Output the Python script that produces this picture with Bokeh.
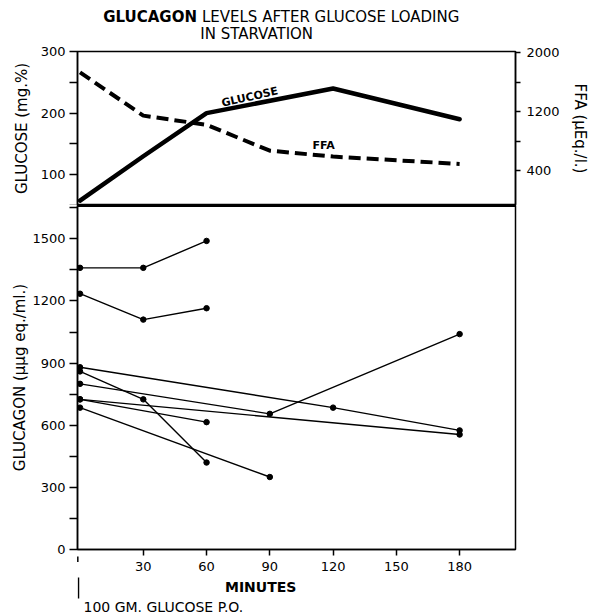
from math import pi
from bokeh.plotting import figure
from bokeh.layouts import column
from bokeh.models import (Range1d, LinearAxis, FixedTicker, Arrow, NormalHead, Span,
                          PolyAnnotation)
from bokeh.core.properties import value
from bokeh.embed import file_html
from bokeh.resources import INLINE

# ---------------- data ----------------
# Top panel (group means)
glucose_minutes = [0, 30, 60, 120, 180]
glucose_values = [58, 130, 200, 240, 190]          # mg.%
ffa_minutes = [0, 30, 60, 90, 120, 180]
ffa_values = [1730, 1145, 1020, 670, 590, 490]     # uEq./l.

# Bottom panel: individual subjects' glucagon
glucagon_minutes = [[0, 30, 60], [0, 30, 60], [0, 120, 180], [0, 30, 60],
                    [0, 90, 180], [0, 60], [0, 180], [0, 90]]
glucagon_values = [[1360, 1360, 1490], [1235, 1110, 1165], [880, 685, 575],
                   [860, 725, 420], [800, 655, 1040], [725, 615], [725, 555],
                   [685, 350]]

minute_ticks = [30, 60, 90, 120, 150, 180]
glucose_ticks = [100, 200, 300]
glucose_minor = [50, 150, 250]
ffa_ticks = [400, 1200, 2000]
ffa_minor = [800, 1600]
glucagon_ticks = [0, 300, 600, 900, 1200, 1500]
glucagon_minor = [150, 450, 750, 1050, 1350, 1650]

FONT = "DejaVu Sans"
W = 591
FL, FR = 77, 74          # borders around the plot frames
FRAME_X = (FL, W - FR)   # pixel span of the aligned frames


def style_axis(ax, ticks, minor, tick_len=7):
    ax.ticker = FixedTicker(ticks=ticks, minor_ticks=minor)
    ax.axis_line_color = "black"
    ax.axis_line_width = 1.5
    ax.major_tick_line_color = "black"
    ax.major_tick_line_width = 1.5
    ax.minor_tick_line_color = "black"
    ax.minor_tick_line_width = 1.5
    ax.major_tick_in = 0
    ax.major_tick_out = tick_len
    ax.minor_tick_in = 0
    ax.minor_tick_out = tick_len
    ax.major_label_text_font = FONT
    ax.major_label_text_font_size = "13px"
    ax.major_label_text_color = "black"
    ax.major_label_standoff = 4
    ax.axis_label_text_font = FONT
    ax.axis_label_text_font_size = "15px"
    ax.axis_label_text_font_style = "normal"
    ax.axis_label_text_color = "black"


def blank(p):
    p.grid.visible = False
    p.outline_line_color = None
    p.background_fill_color = "white"
    p.border_fill_color = "white"


# ---------------- header (title), pixel coordinates ----------------
hdr = figure(width=W, height=43, output_backend="svg", toolbar_location=None,
             x_range=Range1d(*FRAME_X), y_range=Range1d(43, 0),
             x_axis_location=None, y_axis_location=None, min_border=0,
             min_border_left=FL, min_border_right=FR)
blank(hdr)
hdr.text(x=[197], y=[16], text=["GLUCAGON"], text_font=value(FONT),
         text_font_size="15px", text_font_style="bold", text_align="right",
         text_baseline="middle", text_color="black")
hdr.text(x=[202], y=[16], text=["LEVELS AFTER GLUCOSE LOADING"],
         text_font=value(FONT), text_font_size="15px", text_align="left",
         text_baseline="middle", text_color="black")
hdr.text(x=[257], y=[33], text=["IN STARVATION"], text_font=value(FONT),
         text_font_size="15px", text_align="center", text_baseline="middle",
         text_color="black")

# ---------------- top figure ----------------
top = figure(width=W, height=162, output_backend="svg", toolbar_location=None,
             x_range=Range1d(-1.2, 206.5), y_range=Range1d(50, 300),
             x_axis_location=None, min_border_left=FL, min_border_right=FR,
             min_border_top=8, min_border_bottom=0)
top.extra_y_ranges = {"ffa": Range1d(-73, 2014)}
top.grid.visible = False
top.outline_line_color = "black"
top.outline_line_width = 1.5
top.background_fill_color = "white"
top.border_fill_color = "white"
style_axis(top.yaxis[0], glucose_ticks, glucose_minor, 8)
top.yaxis[0].axis_label = "GLUCOSE (mg.%)"
top.yaxis[0].axis_label_standoff = 7

rax = LinearAxis(y_range_name="ffa")
style_axis(rax, ffa_ticks, ffa_minor, 5)
rax.major_label_standoff = 6
rax.axis_label = "FFA (\u03bcEq./l.)"
rax.axis_label_standoff = 8
top.add_layout(rax, "right")
top.add_layout(Span(location=50, dimension="width", line_color="black", line_width=3))

top.line(glucose_minutes, glucose_values, line_color="black", line_width=4.5,
         line_join="round", line_cap="round")
top.line(ffa_minutes, ffa_values, y_range_name="ffa", line_color="black",
         line_width=4, line_dash="12 6")
top.text(x=[80.5], y=[226], text=["GLUCOSE"], angle=0.22, text_align="center",
         text_baseline="middle", text_font=value(FONT), text_font_size="11px",
         text_font_style="bold", text_color="black")
top.text(x=[115.5], y=[148], text=["FFA"], text_align="center",
         text_baseline="middle", text_font=value(FONT), text_font_size="11px",
         text_font_style="bold", text_color="black")

# ---------------- bottom figure ----------------
bot = figure(width=W, height=372, output_backend="svg", toolbar_location=None,
             x_range=top.x_range, y_range=Range1d(0, 1661),
             min_border_left=FL, min_border_right=FR, min_border_top=0,
             min_border_bottom=28)
bot.grid.visible = False
bot.outline_line_color = "black"
bot.outline_line_width = 1.5
bot.background_fill_color = "white"
bot.border_fill_color = "white"
style_axis(bot.yaxis[0], glucagon_ticks, glucagon_minor, 8)
bot.yaxis[0].axis_label = "GLUCAGON (\u03bc\u03bcg eq./ml.)"
bot.yaxis[0].axis_label_standoff = 0
style_axis(bot.xaxis[0], minute_ticks, [], 6)
bot.xaxis[0].major_label_standoff = 6
bot.add_layout(Span(location=1661, dimension="width", line_color="black", line_width=3))

for xs, ys in zip(glucagon_minutes, glucagon_values):
    bot.line(xs, ys, line_color="black", line_width=1.4)
    bot.scatter(xs, ys, size=5.5, marker="circle", fill_color="black",
                line_color="black")

# arrow marking the glucose dose (below the time axis)
bot.add_layout(PolyAnnotation(xs=[-1.4, -0.7, -0.7, -1.4], ys=[-40, -40, -140, -140],
                              fill_color="black", fill_alpha=1, line_color=None))
bot.add_layout(Arrow(x_start=-1.05, y_start=-60, x_end=-1.05, y_end=-34,
                     line_color="black", line_width=1.5,
                     end=NormalHead(size=7, fill_color="black", line_color="black")))

# ---------------- footer, pixel coordinates ----------------
ftr = figure(width=W, height=37, output_backend="svg", toolbar_location=None,
             x_range=Range1d(*FRAME_X), y_range=Range1d(614, 577),
             x_axis_location=None, y_axis_location=None, min_border=0,
             min_border_left=FL, min_border_right=FR)
blank(ftr)
ftr.segment(x0=[78], y0=[576], x1=[78], y1=[598], line_color="black", line_width=1.5)
ftr.text(x=[261], y=[586], text=["MINUTES"], text_font=value(FONT),
         text_font_size="14px", text_font_style="bold", text_align="center",
         text_baseline="middle", text_color="black")
ftr.text(x=[83], y=[606], text=["100 GM. GLUCOSE P.O."], text_font=value(FONT),
         text_font_size="14px", text_align="left", text_baseline="middle",
         text_color="black")

layout = column(hdr, top, bot, ftr)
open("out.html", "w").write(file_html(layout, INLINE))
